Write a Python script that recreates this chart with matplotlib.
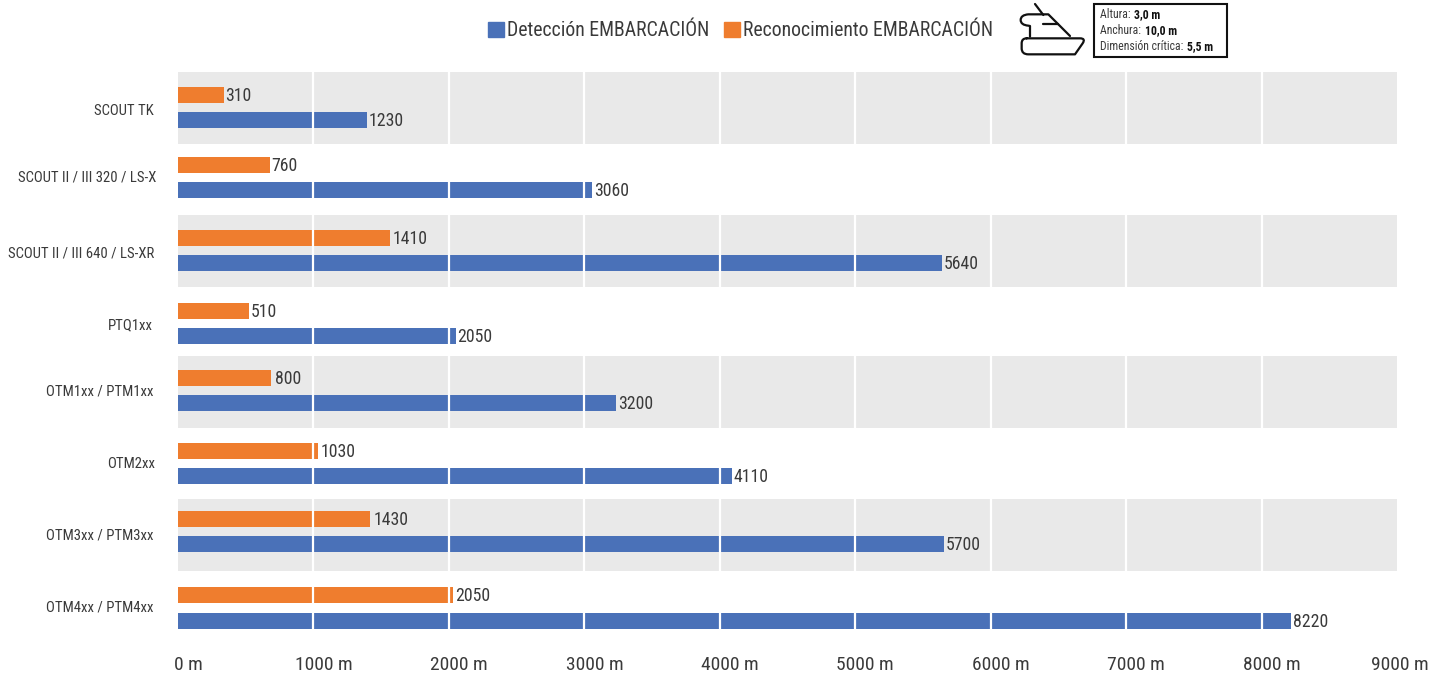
import matplotlib
matplotlib.use("Agg")
import matplotlib.pyplot as plt
from matplotlib.patches import Patch, Rectangle, PathPatch
from matplotlib.path import Path
from matplotlib.transforms import ScaledTranslation
from matplotlib import font_manager as fm

names = {f.name for f in fm.fontManager.ttflist}
FONT = next((n for n in ["Liberation Sans Narrow", "Roboto Condensed", "Liberation Sans"] if n in names), "DejaVu Sans")
plt.rcParams["font.family"] = [FONT, "DejaVu Sans"]

categories = ["SCOUT TK", "SCOUT II / III 320 / LS-X", "SCOUT II / III 640 / LS-XR", "PTQ1xx",
              "OTM1xx / PTM1xx", "OTM2xx", "OTM3xx / PTM3xx", "OTM4xx / PTM4xx"]
deteccion_labels = [1230, 3060, 5640, 2050, 3200, 4110, 5700, 8220]
reconocimiento_labels = [310, 760, 1410, 510, 800, 1030, 1430, 2050]
# drawn bar lengths (they differ slightly from the printed labels)
deteccion_bars = [1395, 3057, 5640, 2050, 3235, 4090, 5655, 8220]
reconocimiento_bars = [340, 680, 1565, 525, 687, 1034, 1418, 2031]
xticks = [0, 1000, 2000, 3000, 4000, 5000, 6000, 7000, 8000, 9000]
xtick_labels = [f"{v} m" for v in xticks]

BLUE, ORANGE, BAND, TXT = "#4A71B8", "#EF7D2E", "#E9E9E9", "#3A3A3A"
W, H = 1444, 675
fig = plt.figure(figsize=(W / 100, H / 100), dpi=100, facecolor="white")
L, R, T, B = 178, 1397, 72, 641
ax = fig.add_axes([L / W, 1 - B / H, (R - L) / W, (B - T) / H])
ax.set_xlim(0, 9000)
ax.set_ylim(8, 0)
for s in ax.spines.values():
    s.set_visible(False)

row_px = (B - T) / 8
pair_nudge = [0, -1, 1, 2.6, -1.5, 0.4, -2.7, 2.6]
label_nudge = [2.4, -2.7, 2.2, 3, -2, -1, 0, 0.6]
label_right = [154, 156, 154, 153, 154, 155, 154, 154]
rec_label_dx = [-1, -1, 1, 0, 2, 1, 2, 0]
band_top_nudge = [0, 0.75, -0.25, 0]
bar_h, sep = 16 / row_px, 25.2 / row_px

for k, i in enumerate(range(0, 8, 2)):
    top = i + band_top_nudge[k] / row_px
    ax.axhspan(top, top + 72 / row_px, color=BAND, lw=0, zorder=0)

for i, cat in enumerate(categories):
    c = i + 0.5 + pair_nudge[i] / row_px
    ax.barh(c - sep / 2, reconocimiento_bars[i], height=bar_h, color=ORANGE, zorder=2)
    ax.barh(c + sep / 2, deteccion_bars[i], height=bar_h, color=BLUE, zorder=2)
    ax.annotate(str(reconocimiento_labels[i]), (reconocimiento_bars[i], c - sep / 2),
                xytext=(1.4 + rec_label_dx[i] * 0.72, -0.7),
                textcoords="offset points", va="center", ha="left", fontsize=12.8, color=TXT, zorder=4)
    ax.annotate(str(deteccion_labels[i]), (deteccion_bars[i], c + sep / 2), xytext=(1.4, -0.7),
                textcoords="offset points", va="center", ha="left", fontsize=12.8, color=TXT, zorder=4)

for x in xticks[1:-1]:
    ax.axvline(x, color="white", lw=1.6, zorder=3)

ax.set_yticks([i + 0.5 + label_nudge[i] / row_px for i in range(8)], categories, fontsize=10.6, color=TXT)
ax.tick_params(axis="y", length=0, pad=0)
for lab, r in zip(ax.get_yticklabels(), label_right):
    lab.set_transform(lab.get_transform() + ScaledTranslation((r - L) / 100, 0, fig.dpi_scale_trans))

ax.set_xticks(xticks, xtick_labels, fontsize=14, color=TXT)
ax.tick_params(axis="x", length=0, pad=10.5)
nudges = [10] * 9 + [3]
for lab, n in zip(ax.get_xticklabels(), nudges):
    lab.set_transform(lab.get_transform() + ScaledTranslation(n / 100, 0, fig.dpi_scale_trans))

fig.legend(handles=[Patch(color=BLUE, label="Detección EMBARCACIÓN"), Patch(color=ORANGE, label="Reconocimiento EMBARCACIÓN")],
           ncols=2, frameon=False, fontsize=14.25, labelcolor=TXT, loc="center", bbox_to_anchor=(740.5 / W, 1 - 31 / H),
           handlelength=0.8, handleheight=0.8, handletextpad=0.15, columnspacing=0.77, borderpad=0, borderaxespad=0)

# overlay in pixel coordinates for the key box and boat pictogram
ov = fig.add_axes([0, 0, 1, 1], facecolor="none")
ov.set_xlim(0, W)
ov.set_ylim(H, 0)
ov.axis("off")
ov.add_patch(Rectangle((1094, 4), 133, 53, fc="white", ec="#111111", lw=1.5))

rows = [("Altura: ", "3,0 m", 15), ("Anchura: ", "10,0 m", 30.5), ("Dimensión crítica: ", "5,5 m", 47)]
rend = fig.canvas.get_renderer()
for a, b, y in rows:
    t = ov.text(1100, y, a, fontsize=8.5, va="center", ha="left", color=TXT)
    x1 = t.get_window_extent(rend).x1
    ov.text(x1 + 1, y, b, fontsize=8.5, fontweight="bold", va="center", ha="left", color="#111111")

M, L_, C = Path.MOVETO, Path.LINETO, Path.CURVE3
z = lambda x, y: (980 + x / 3, y / 3)
boat = [
    ([z(165, 12), z(190, 45)], [M, L_]),
    ([z(190, 72), z(235, 72)], [M, L_]),
    ([z(270, 108), z(205, 43), z(145, 43), z(122, 45), z(122, 60), z(122, 75), z(145, 77), z(150, 78), z(150, 110)],
     [M, L_, L_, C, C, C, C, L_, L_]),
    ([z(140, 115), z(300, 115), z(318, 115), z(308, 130), z(285, 163), z(145, 163), z(125, 163), z(125, 145),
      z(125, 130), z(125, 115), z(140, 115)], [M, L_, C, C, L_, L_, C, C, L_, C, C]),
]
for verts, codes in boat:
    ov.add_patch(PathPatch(Path(verts, codes), fc="none", ec="#111111", lw=1.6, capstyle="round", joinstyle="round"))

fig.savefig("out.png", dpi=100, facecolor="white")
